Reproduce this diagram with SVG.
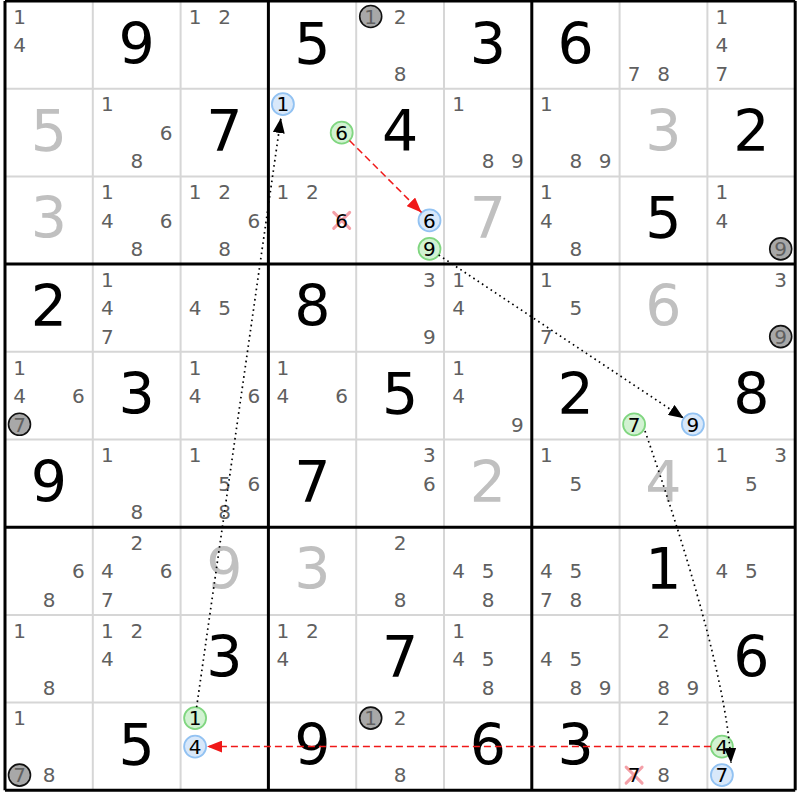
<svg xmlns="http://www.w3.org/2000/svg" width="800" height="800" viewBox="0 0 800 800">
<style>
text{font-family:"DejaVu Sans","Liberation Sans",sans-serif}
.g{font-size:57px;fill:#000;text-anchor:middle}
.s{font-size:57px;fill:#c0c0c0;text-anchor:middle}
.n{font-size:20px;fill:#606060;text-anchor:middle}
.k{font-size:20px;fill:#000;text-anchor:middle}
.cg{fill:#d2f2d2;stroke:#80d680;stroke-width:1.8}
.cb{fill:#d8e8fa;stroke:#92c2f2;stroke-width:1.8}
.cy{fill:#a8a8a8;stroke:#111;stroke-width:1.6}
.x{stroke:#f4a0a8;stroke-width:3;stroke-linecap:round}
.thin{stroke:#d6d6d6;stroke-width:2}
.thick{stroke:#000;stroke-width:3}
.dot{fill:none;stroke:#000;stroke-width:1.7;stroke-dasharray:1.6 3.6}
.dash{fill:none;stroke:#f01818;stroke-width:1.5;stroke-dasharray:7 4}
</style>
<defs>
<marker id="ab" markerUnits="userSpaceOnUse" markerWidth="16" markerHeight="12" refX="15" refY="6" orient="auto"><path d="M0,0 L15,6 L0,12 z" fill="#000"/></marker>
<marker id="ar" markerUnits="userSpaceOnUse" markerWidth="16" markerHeight="12" refX="15" refY="6" orient="auto"><path d="M0,0 L15,6 L0,12 z" fill="#f01818"/></marker>
</defs>
<rect width="800" height="800" fill="#fff"/>
<g id="grid">
<path class="thin" d="M92.8,1V790.3M180.6,1V790.3M356.2,1V790.3M444,1V790.3M619.6,1V790.3M707.4,1V790.3M5,88.7H795.2M5,176.4H795.2M5,351.8H795.2M5,439.5H795.2M5,614.9H795.2M5,702.6H795.2"/>
<path class="thick" d="M5,1V790.3M268.4,1V790.3M531.8,1V790.3M795.2,1V790.3M5,1H795.2M5,264.1H795.2M5,527.2H795.2M5,790.3H795.2"/>
</g>
<!-- row 0 -->
<g id="r0c0" transform="translate(5,1)"><text class="n" x="14.5" y="22.8">1</text><text class="n" x="14.5" y="51.3">4</text></g>
<g id="r0c1" transform="translate(92.8,1)"><text class="g" x="43.9" y="63">9</text></g>
<g id="r0c2" transform="translate(180.6,1)"><text class="n" x="14.5" y="22.8">1</text><text class="n" x="44" y="22.8">2</text></g>
<g id="r0c3" transform="translate(268.4,1)"><text class="g" x="43.9" y="63">5</text></g>
<g id="r0c4" transform="translate(356.2,1)"><circle class="cy" cx="14.5" cy="15.5" r="11"/><text class="n" x="14.5" y="22.8">1</text><text class="n" x="44" y="22.8">2</text><text class="n" x="44" y="79.8">8</text></g>
<g id="r0c5" transform="translate(444,1)"><text class="g" x="43.9" y="63">3</text></g>
<g id="r0c6" transform="translate(531.8,1)"><text class="g" x="43.9" y="63">6</text></g>
<g id="r0c7" transform="translate(619.6,1)"><text class="n" x="14.5" y="79.8">7</text><text class="n" x="44" y="79.8">8</text></g>
<g id="r0c8" transform="translate(707.4,1)"><text class="n" x="14.5" y="22.8">1</text><text class="n" x="14.5" y="51.3">4</text><text class="n" x="14.5" y="79.8">7</text></g>
<!-- row 1 -->
<g id="r1c0" transform="translate(5,88.7)"><text class="s" x="43.9" y="62">5</text></g>
<g id="r1c1" transform="translate(92.8,88.7)"><text class="n" x="14.5" y="22.8">1</text><text class="n" x="73.3" y="51.3">6</text><text class="n" x="44" y="79.8">8</text></g>
<g id="r1c2" transform="translate(180.6,88.7)"><text class="g" x="43.9" y="62">7</text></g>
<g id="r1c3" transform="translate(268.4,88.7)"><circle class="cb" cx="14.5" cy="15.5" r="11"/><text class="k" x="14.5" y="22.8">1</text><circle class="cg" cx="73.3" cy="44" r="11"/><text class="k" x="73.3" y="51.3">6</text></g>
<g id="r1c4" transform="translate(356.2,88.7)"><text class="g" x="43.9" y="62">4</text></g>
<g id="r1c5" transform="translate(444,88.7)"><text class="n" x="14.5" y="22.8">1</text><text class="n" x="44" y="79.8">8</text><text class="n" x="73.3" y="79.8">9</text></g>
<g id="r1c6" transform="translate(531.8,88.7)"><text class="n" x="14.5" y="22.8">1</text><text class="n" x="44" y="79.8">8</text><text class="n" x="73.3" y="79.8">9</text></g>
<g id="r1c7" transform="translate(619.6,88.7)"><text class="s" x="43.9" y="62">3</text></g>
<g id="r1c8" transform="translate(707.4,88.7)"><text class="g" x="43.9" y="62">2</text></g>
<!-- row 2 -->
<g id="r2c0" transform="translate(5,176.4)"><text class="s" x="43.9" y="62">3</text></g>
<g id="r2c1" transform="translate(92.8,176.4)"><text class="n" x="14.5" y="22.8">1</text><text class="n" x="14.5" y="51.3">4</text><text class="n" x="73.3" y="51.3">6</text><text class="n" x="44" y="79.8">8</text></g>
<g id="r2c2" transform="translate(180.6,176.4)"><text class="n" x="14.5" y="22.8">1</text><text class="n" x="44" y="22.8">2</text><text class="n" x="73.3" y="51.3">6</text><text class="n" x="44" y="79.8">8</text></g>
<g id="r2c3" transform="translate(268.4,176.4)"><text class="n" x="14.5" y="22.8">1</text><text class="n" x="44" y="22.8">2</text><path class="x" d="M65.3,36L81.3,52M81.3,36L65.3,52"/><text class="k" x="73.3" y="51.3">6</text></g>
<g id="r2c4" transform="translate(356.2,176.4)"><circle class="cb" cx="73.3" cy="44" r="11"/><text class="k" x="73.3" y="51.3">6</text><circle class="cg" cx="73.3" cy="72.5" r="11"/><text class="k" x="73.3" y="79.8">9</text></g>
<g id="r2c5" transform="translate(444,176.4)"><text class="s" x="43.9" y="62">7</text></g>
<g id="r2c6" transform="translate(531.8,176.4)"><text class="n" x="14.5" y="22.8">1</text><text class="n" x="14.5" y="51.3">4</text><text class="n" x="44" y="79.8">8</text></g>
<g id="r2c7" transform="translate(619.6,176.4)"><text class="g" x="43.9" y="62">5</text></g>
<g id="r2c8" transform="translate(707.4,176.4)"><text class="n" x="14.5" y="22.8">1</text><text class="n" x="14.5" y="51.3">4</text><circle class="cy" cx="73.3" cy="72.5" r="11"/><text class="n" x="73.3" y="79.8">9</text></g>
<!-- row 3 -->
<g id="r3c0" transform="translate(5,264.1)"><text class="g" x="43.9" y="62">2</text></g>
<g id="r3c1" transform="translate(92.8,264.1)"><text class="n" x="14.5" y="22.8">1</text><text class="n" x="14.5" y="51.3">4</text><text class="n" x="14.5" y="79.8">7</text></g>
<g id="r3c2" transform="translate(180.6,264.1)"><text class="n" x="14.5" y="51.3">4</text><text class="n" x="44" y="51.3">5</text></g>
<g id="r3c3" transform="translate(268.4,264.1)"><text class="g" x="43.9" y="62">8</text></g>
<g id="r3c4" transform="translate(356.2,264.1)"><text class="n" x="73.3" y="22.8">3</text><text class="n" x="73.3" y="79.8">9</text></g>
<g id="r3c5" transform="translate(444,264.1)"><text class="n" x="14.5" y="22.8">1</text><text class="n" x="14.5" y="51.3">4</text></g>
<g id="r3c6" transform="translate(531.8,264.1)"><text class="n" x="14.5" y="22.8">1</text><text class="n" x="44" y="51.3">5</text><text class="n" x="14.5" y="79.8">7</text></g>
<g id="r3c7" transform="translate(619.6,264.1)"><text class="s" x="43.9" y="62">6</text></g>
<g id="r3c8" transform="translate(707.4,264.1)"><text class="n" x="73.3" y="22.8">3</text><circle class="cy" cx="73.3" cy="72.5" r="11"/><text class="n" x="73.3" y="79.8">9</text></g>
<!-- row 4 -->
<g id="r4c0" transform="translate(5,351.8)"><text class="n" x="14.5" y="22.8">1</text><text class="n" x="14.5" y="51.3">4</text><text class="n" x="73.3" y="51.3">6</text><circle class="cy" cx="14.5" cy="72.5" r="11"/><text class="n" x="14.5" y="79.8">7</text></g>
<g id="r4c1" transform="translate(92.8,351.8)"><text class="g" x="43.9" y="62">3</text></g>
<g id="r4c2" transform="translate(180.6,351.8)"><text class="n" x="14.5" y="22.8">1</text><text class="n" x="14.5" y="51.3">4</text><text class="n" x="73.3" y="51.3">6</text></g>
<g id="r4c3" transform="translate(268.4,351.8)"><text class="n" x="14.5" y="22.8">1</text><text class="n" x="14.5" y="51.3">4</text><text class="n" x="73.3" y="51.3">6</text></g>
<g id="r4c4" transform="translate(356.2,351.8)"><text class="g" x="43.9" y="62">5</text></g>
<g id="r4c5" transform="translate(444,351.8)"><text class="n" x="14.5" y="22.8">1</text><text class="n" x="14.5" y="51.3">4</text><text class="n" x="73.3" y="79.8">9</text></g>
<g id="r4c6" transform="translate(531.8,351.8)"><text class="g" x="43.9" y="62">2</text></g>
<g id="r4c7" transform="translate(619.6,351.8)"><circle class="cg" cx="14.5" cy="72.5" r="11"/><text class="k" x="14.5" y="79.8">7</text><circle class="cb" cx="73.3" cy="72.5" r="11"/><text class="k" x="73.3" y="79.8">9</text></g>
<g id="r4c8" transform="translate(707.4,351.8)"><text class="g" x="43.9" y="62">8</text></g>
<!-- row 5 -->
<g id="r5c0" transform="translate(5,439.5)"><text class="g" x="43.9" y="62">9</text></g>
<g id="r5c1" transform="translate(92.8,439.5)"><text class="n" x="14.5" y="22.8">1</text><text class="n" x="44" y="79.8">8</text></g>
<g id="r5c2" transform="translate(180.6,439.5)"><text class="n" x="14.5" y="22.8">1</text><text class="n" x="44" y="51.3">5</text><text class="n" x="73.3" y="51.3">6</text><text class="n" x="44" y="79.8">8</text></g>
<g id="r5c3" transform="translate(268.4,439.5)"><text class="g" x="43.9" y="62">7</text></g>
<g id="r5c4" transform="translate(356.2,439.5)"><text class="n" x="73.3" y="22.8">3</text><text class="n" x="73.3" y="51.3">6</text></g>
<g id="r5c5" transform="translate(444,439.5)"><text class="s" x="43.9" y="62">2</text></g>
<g id="r5c6" transform="translate(531.8,439.5)"><text class="n" x="14.5" y="22.8">1</text><text class="n" x="44" y="51.3">5</text></g>
<g id="r5c7" transform="translate(619.6,439.5)"><text class="s" x="43.9" y="62">4</text></g>
<g id="r5c8" transform="translate(707.4,439.5)"><text class="n" x="14.5" y="22.8">1</text><text class="n" x="73.3" y="22.8">3</text><text class="n" x="44" y="51.3">5</text></g>
<!-- row 6 -->
<g id="r6c0" transform="translate(5,527.2)"><text class="n" x="73.3" y="51.3">6</text><text class="n" x="44" y="79.8">8</text></g>
<g id="r6c1" transform="translate(92.8,527.2)"><text class="n" x="44" y="22.8">2</text><text class="n" x="14.5" y="51.3">4</text><text class="n" x="73.3" y="51.3">6</text><text class="n" x="14.5" y="79.8">7</text></g>
<g id="r6c2" transform="translate(180.6,527.2)"><text class="s" x="43.9" y="62">9</text></g>
<g id="r6c3" transform="translate(268.4,527.2)"><text class="s" x="43.9" y="62">3</text></g>
<g id="r6c4" transform="translate(356.2,527.2)"><text class="n" x="44" y="22.8">2</text><text class="n" x="44" y="79.8">8</text></g>
<g id="r6c5" transform="translate(444,527.2)"><text class="n" x="14.5" y="51.3">4</text><text class="n" x="44" y="51.3">5</text><text class="n" x="44" y="79.8">8</text></g>
<g id="r6c6" transform="translate(531.8,527.2)"><text class="n" x="14.5" y="51.3">4</text><text class="n" x="44" y="51.3">5</text><text class="n" x="14.5" y="79.8">7</text><text class="n" x="44" y="79.8">8</text></g>
<g id="r6c7" transform="translate(619.6,527.2)"><text class="g" x="43.9" y="62">1</text></g>
<g id="r6c8" transform="translate(707.4,527.2)"><text class="n" x="14.5" y="51.3">4</text><text class="n" x="44" y="51.3">5</text></g>
<!-- row 7 -->
<g id="r7c0" transform="translate(5,614.9)"><text class="n" x="14.5" y="22.8">1</text><text class="n" x="44" y="79.8">8</text></g>
<g id="r7c1" transform="translate(92.8,614.9)"><text class="n" x="14.5" y="22.8">1</text><text class="n" x="44" y="22.8">2</text><text class="n" x="14.5" y="51.3">4</text></g>
<g id="r7c2" transform="translate(180.6,614.9)"><text class="g" x="43.9" y="62">3</text></g>
<g id="r7c3" transform="translate(268.4,614.9)"><text class="n" x="14.5" y="22.8">1</text><text class="n" x="44" y="22.8">2</text><text class="n" x="14.5" y="51.3">4</text></g>
<g id="r7c4" transform="translate(356.2,614.9)"><text class="g" x="43.9" y="62">7</text></g>
<g id="r7c5" transform="translate(444,614.9)"><text class="n" x="14.5" y="22.8">1</text><text class="n" x="14.5" y="51.3">4</text><text class="n" x="44" y="51.3">5</text><text class="n" x="44" y="79.8">8</text></g>
<g id="r7c6" transform="translate(531.8,614.9)"><text class="n" x="14.5" y="51.3">4</text><text class="n" x="44" y="51.3">5</text><text class="n" x="44" y="79.8">8</text><text class="n" x="73.3" y="79.8">9</text></g>
<g id="r7c7" transform="translate(619.6,614.9)"><text class="n" x="44" y="22.8">2</text><text class="n" x="44" y="79.8">8</text><text class="n" x="73.3" y="79.8">9</text></g>
<g id="r7c8" transform="translate(707.4,614.9)"><text class="g" x="43.9" y="62">6</text></g>
<!-- row 8 -->
<g id="r8c0" transform="translate(5,702.6)"><text class="n" x="14.5" y="22.8">1</text><circle class="cy" cx="14.5" cy="72.5" r="11"/><text class="n" x="14.5" y="79.8">7</text><text class="n" x="44" y="79.8">8</text></g>
<g id="r8c1" transform="translate(92.8,702.6)"><text class="g" x="43.9" y="62">5</text></g>
<g id="r8c2" transform="translate(180.6,702.6)"><circle class="cg" cx="14.5" cy="15.5" r="11"/><text class="k" x="14.5" y="22.8">1</text><circle class="cb" cx="14.5" cy="44" r="11"/><text class="k" x="14.5" y="51.3">4</text></g>
<g id="r8c3" transform="translate(268.4,702.6)"><text class="g" x="43.9" y="62">9</text></g>
<g id="r8c4" transform="translate(356.2,702.6)"><circle class="cy" cx="14.5" cy="15.5" r="11"/><text class="n" x="14.5" y="22.8">1</text><text class="n" x="44" y="22.8">2</text><text class="n" x="44" y="79.8">8</text></g>
<g id="r8c5" transform="translate(444,702.6)"><text class="g" x="43.9" y="62">6</text></g>
<g id="r8c6" transform="translate(531.8,702.6)"><text class="g" x="43.9" y="62">3</text></g>
<g id="r8c7" transform="translate(619.6,702.6)"><text class="n" x="44" y="22.8">2</text><path class="x" d="M6.5,64.5L22.5,80.5M22.5,64.5L6.5,80.5"/><text class="k" x="14.5" y="79.8">7</text><text class="n" x="44" y="79.8">8</text></g>
<g id="r8c8" transform="translate(707.4,702.6)"><circle class="cg" cx="14.5" cy="44" r="11"/><text class="k" x="14.5" y="51.3">4</text><circle class="cb" cx="14.5" cy="72.5" r="11"/><text class="k" x="14.5" y="79.8">7</text></g>
<g id="connectors">
<path class="dash" d="M349.5,140.5L421.5,212.4" marker-end="url(#ar)"/>
<path class="dot" d="M438.7,255L683.7,418.2" marker-end="url(#ab)"/>
<path class="dot" d="M645,431Q726,665 731,763" marker-end="url(#ab)"/>
<path class="dot" d="M196.6,707.2L280.9,118" marker-end="url(#ab)"/>
<path class="dash" d="M710.9,746.6L207,746.6" marker-end="url(#ar)"/>
</g>
</svg>
